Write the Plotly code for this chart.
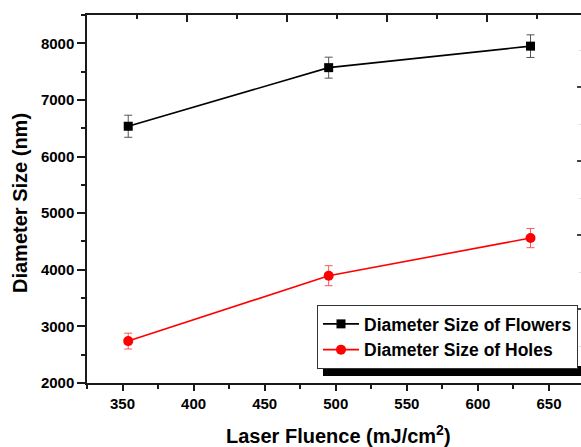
import plotly.graph_objects as go

# ---- data ----
fluence = [354, 495, 637]
flowers = [6535, 7570, 7950]
flowers_err = [195, 185, 200]
holes = [2740, 3895, 4560]
holes_err = [140, 177, 170]

x_ticks = [350, 400, 450, 500, 550, 600, 650]
y_ticks = [2000, 3000, 4000, 5000, 6000, 7000, 8000]

W, H = 581, 447
ML, MR, MT, MB = 87, 0, 15, 64
PW, PH = W - ML - MR, H - MT - MB

def px_x(p):
    return (p - ML) / PW

def px_y(p):
    return (H - MB - p) / PH

FONT = "Liberation Sans, Arial, sans-serif"
AX = "#1a1a1a"

fig = go.Figure()
fig.add_trace(go.Scatter(
    x=fluence, y=flowers, name="Diameter Size of Flowers",
    mode="lines+markers",
    line=dict(color="black", width=1.6),
    marker=dict(symbol="square", size=9, color="black"),
    error_y=dict(type="data", array=flowers_err, color="#555555", thickness=1, width=4),
))
fig.add_trace(go.Scatter(
    x=fluence, y=holes, name="Diameter Size of Holes",
    mode="lines+markers",
    line=dict(color="#ff0000", width=1.6),
    marker=dict(symbol="circle", size=10, color="#ff0000"),
    error_y=dict(type="data", array=holes_err, color="#ff5555", thickness=1, width=4),
))
# dummy trace so the decorative top/right axes are drawn
fig.add_trace(go.Scatter(x=[None], y=[None], xaxis="x2", yaxis="y2",
                         showlegend=False, hoverinfo="skip"))

fig.update_layout(
    width=W, height=H,
    margin=dict(l=ML, r=MR, t=MT, b=MB, pad=0),
    paper_bgcolor="white", plot_bgcolor="white",
    font=dict(family=FONT, color="black"),
    showlegend=True,
    xaxis=dict(
        range=[325, 672.5], tickvals=x_ticks, ticktext=[str(v) for v in x_ticks],
        showgrid=False, zeroline=False,
        showline=True, linecolor=AX, linewidth=1.5,
        ticks="outside", ticklen=6, tickwidth=1.5, tickcolor=AX,
        minor=dict(ticks="outside", ticklen=4, tickwidth=1.5, tickcolor=AX, dtick=25, tick0=325),
        tickfont=dict(family=FONT, size=15, weight="bold", color="black"),
    ),
    yaxis=dict(
        range=[2000, 8500], tickvals=y_ticks, ticktext=[str(v) for v in y_ticks],
        showgrid=False, zeroline=False,
        showline=True, linecolor=AX, linewidth=1.5,
        ticks="outside", ticklen=8, tickwidth=1.5, tickcolor=AX,
        minor=dict(ticks="outside", ticklen=4, tickwidth=1.5, tickcolor=AX, dtick=500, tick0=2000),
        tickfont=dict(family=FONT, size=15, weight="bold", color="black"),
    ),
    xaxis2=dict(
        overlaying="x", side="top", anchor="y2", range=[0, PW],
        showgrid=False, zeroline=False, showticklabels=False,
        showline=True, linecolor=AX, linewidth=1.5,
        ticks="inside", ticklen=7, tickwidth=1.5, tickcolor=AX, dtick=100, tick0=0,
        minor=dict(ticks="inside", ticklen=4, tickwidth=1.5, tickcolor=AX, dtick=50, tick0=0),
    ),
    yaxis2=dict(
        overlaying="y", side="right", anchor="x2", range=[0, PH / 74.0],
        showgrid=False, zeroline=False, showticklabels=False, showline=False,
        ticks="inside", ticklen=4, tickwidth=1.5, tickcolor="#444444", dtick=1, tick0=0,
        minor=dict(ticks="inside", ticklen=2, tickwidth=1, tickcolor="#dddddd", dtick=0.5, tick0=0),
    ),
    legend=dict(
        x=px_x(317), y=px_y(305), xanchor="left", yanchor="top",
        bgcolor="white", bordercolor="#333333", borderwidth=1,
        font=dict(family=FONT, size=17.5, weight="bold", color="black"),
        tracegroupgap=0, itemwidth=36,
    ),
)

# legend drop shadow (bottom bar)
fig.add_shape(type="rect", xref="paper", yref="paper",
              x0=px_x(323), x1=1.0, y0=px_y(376), y1=px_y(366),
              fillcolor="black", line=dict(width=0), layer="above")

# axis titles
fig.add_annotation(text="Diameter Size (nm)", xref="paper", yref="paper",
                   x=px_x(20), y=px_y(203), textangle=-90, showarrow=False,
                   xanchor="center", yanchor="middle",
                   font=dict(family=FONT, size=20, weight="bold", color="black"))
fig.add_annotation(text="Laser Fluence (mJ/cm<sup>2</sup>)", xref="paper", yref="paper",
                   x=px_x(338), y=px_y(434), showarrow=False,
                   xanchor="center", yanchor="middle",
                   font=dict(family=FONT, size=20, weight="bold", color="black"))

fig.write_html("out.html")
